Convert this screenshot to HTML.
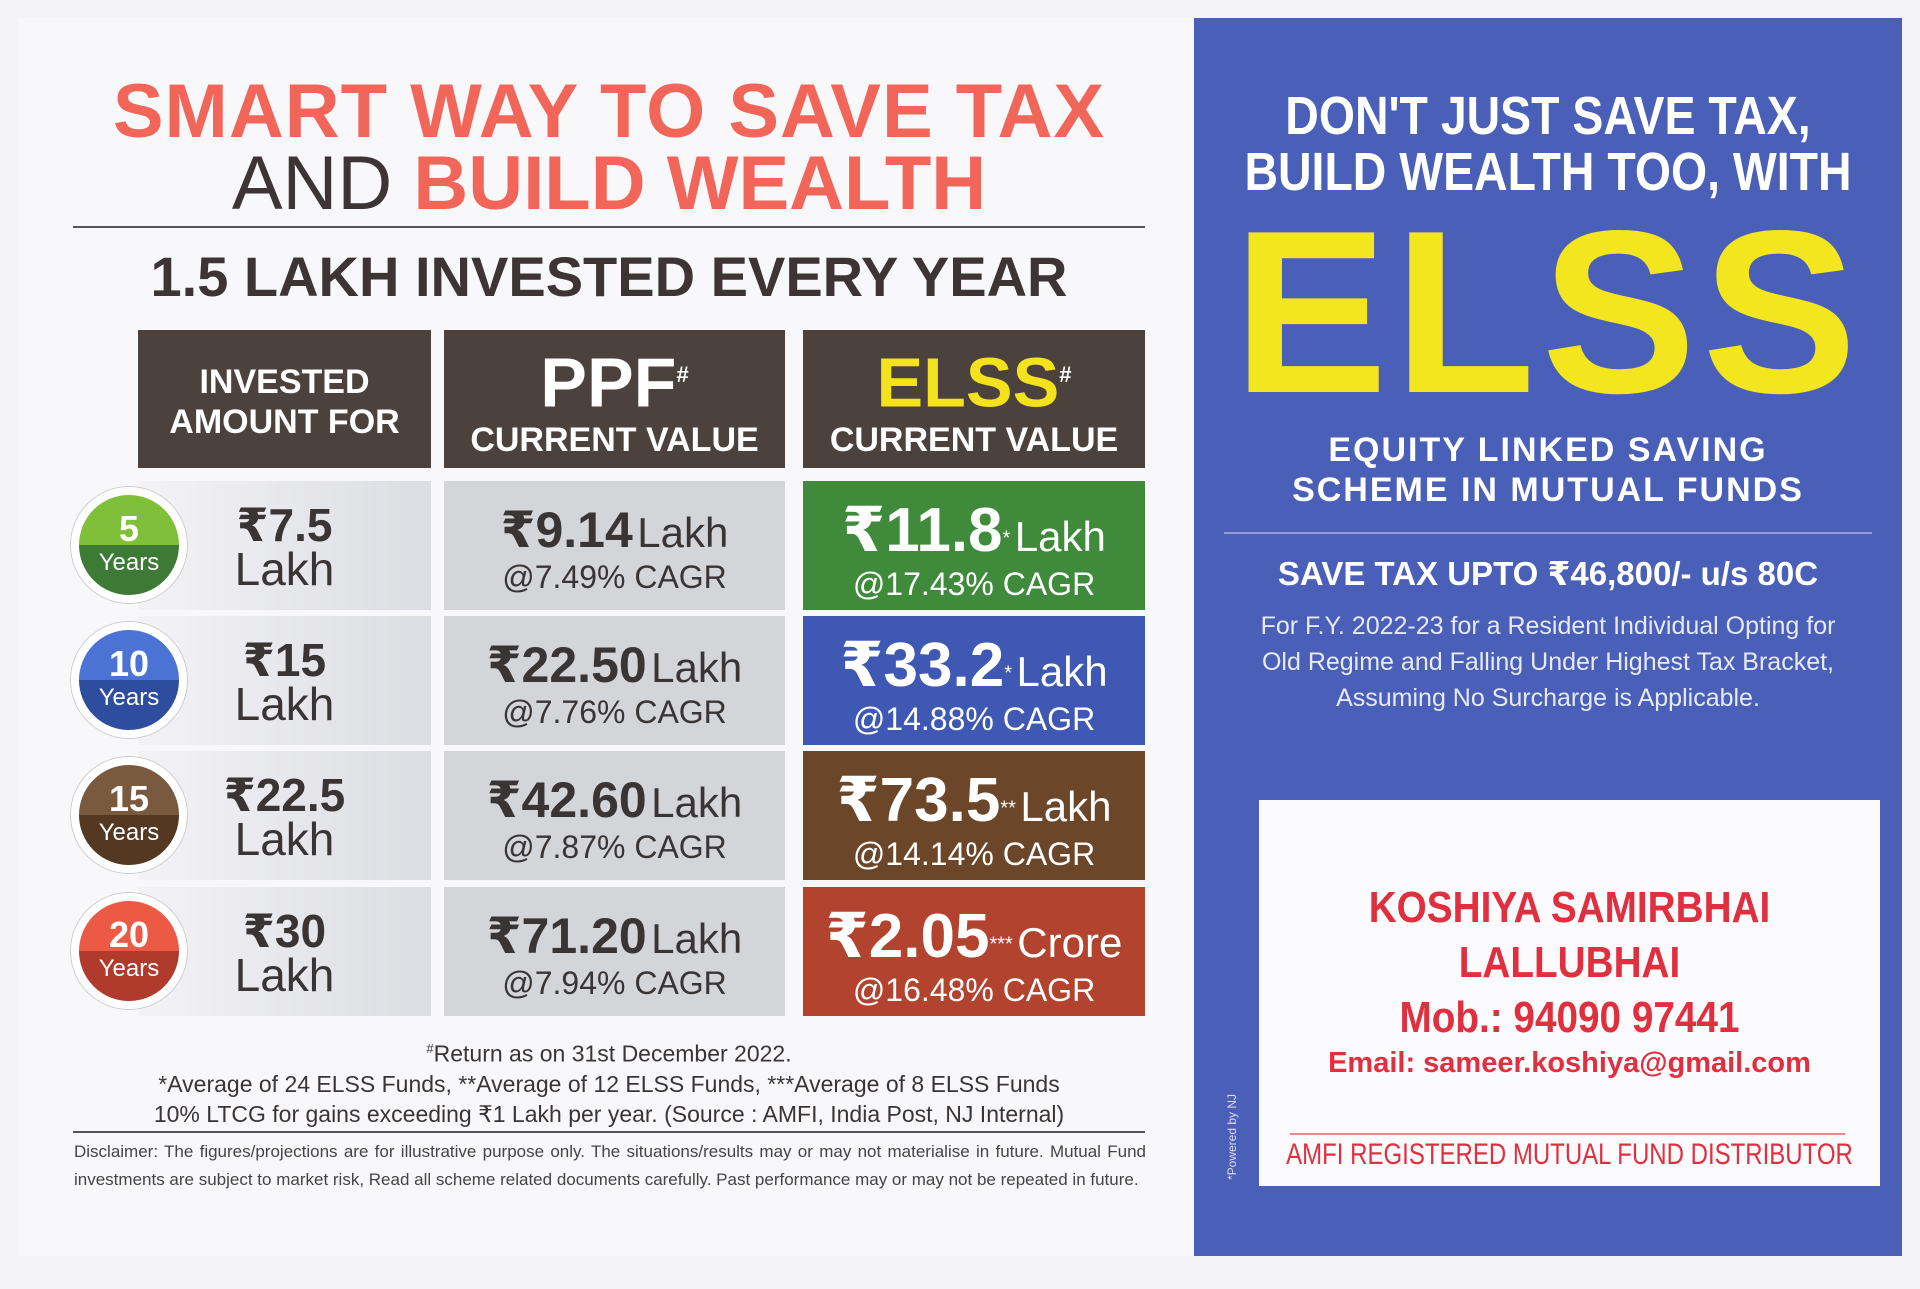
<!DOCTYPE html>
<html><head><meta charset="utf-8"><style>
*{margin:0;padding:0;box-sizing:border-box}
body{width:1920px;height:1289px;background:#f4f4f6;position:relative;overflow:hidden;font-family:"Liberation Sans","DejaVu Sans",sans-serif}
.a{position:absolute}
.c{text-align:center;white-space:nowrap}
.left{left:18px;top:18px;width:1176px;height:1238px;background:#f8f8fa}
.h{background:#4b423d;color:#fff;font-weight:bold}
.g{background:#d4d5d9;color:#3a3535}
.l{background:linear-gradient(90deg,#f3f3f6,#dcdde2);color:#3a3535}
.circ{width:116px;height:116px;border-radius:50%;border:8px solid #fff;box-shadow:0 0 0 1px #ccc;color:#fff;text-align:center;font-weight:bold}
.circ b{display:block;font-size:36px;line-height:40px;margin-top:14px}
.circ span{display:block;font-size:24px;font-weight:normal}
.val{font-size:50px;font-weight:bold}
.unit{font-size:42px;font-weight:normal}
.cagr{font-size:32px}
</style></head><body>
<div class="a left"></div>
<div class="a c" style="left:73px;width:1072px;top:68px;font-size:76px;font-weight:900;color:#f2665a;letter-spacing:1px">SMART WAY TO SAVE TAX</div>
<div class="a c" style="left:73px;width:1072px;top:140px;font-size:76px;color:#3d3535"><span style="font-weight:normal">AND </span><b style="color:#f2665a;font-weight:900">BUILD WEALTH</b></div>
<div class="a" style="left:73px;top:226px;width:1072px;height:2px;background:#555"></div>
<div class="a c" style="left:73px;width:1072px;top:244px;font-size:56px;font-weight:bold;color:#3d3535">1.5 LAKH INVESTED EVERY YEAR</div>

<div class="a h c" style="left:138px;top:330px;width:293px;height:138px;padding-top:32px;font-size:34px;line-height:40px">INVESTED<br>AMOUNT FOR</div>
<div class="a h c" style="left:444px;top:330px;width:341px;height:138px;padding-top:10px"><div style="font-size:70px;line-height:70px;font-weight:900">PPF<sup style="font-size:22px">#</sup></div><div style="font-size:34px;margin-top:4px">CURRENT VALUE</div></div>
<div class="a h c" style="left:803px;top:330px;width:342px;height:138px;padding-top:10px"><div style="font-size:70px;line-height:70px;font-weight:900;color:#f3e21c">ELSS<sup style="font-size:22px;color:#fff">#</sup></div><div style="font-size:34px;margin-top:4px">CURRENT VALUE</div></div>

<div class="a l c" style="left:138px;top:481px;width:293px;height:129px;padding:22px 0 0 0;font-size:46px;line-height:44px"><b>₹7.5</b><br>Lakh</div>
<div class="a l c" style="left:138px;top:616px;width:293px;height:129px;padding:22px 0 0 0;font-size:46px;line-height:44px"><b>₹15</b><br>Lakh</div>
<div class="a l c" style="left:138px;top:751px;width:293px;height:129px;padding:22px 0 0 0;font-size:46px;line-height:44px"><b>₹22.5</b><br>Lakh</div>
<div class="a l c" style="left:138px;top:887px;width:293px;height:129px;padding:22px 0 0 0;font-size:46px;line-height:44px"><b>₹30</b><br>Lakh</div>

<div class="a circ" style="left:71px;top:487px;background:linear-gradient(#7fbf3a 50%,#3d7a36 50%)"><b>5</b><span>Years</span></div>
<div class="a circ" style="left:71px;top:622px;background:linear-gradient(#4b73d6 50%,#2f4d9e 50%)"><b>10</b><span>Years</span></div>
<div class="a circ" style="left:71px;top:757px;background:linear-gradient(#7a5a3f 50%,#553821 50%)"><b>15</b><span>Years</span></div>
<div class="a circ" style="left:71px;top:893px;background:linear-gradient(#ec5a45 50%,#b03a2b 50%)"><b>20</b><span>Years</span></div>

<div class="a g c" style="left:444px;top:481px;width:341px;height:129px;padding-top:20px"><span class="val">₹9.14</span> <span class="unit">Lakh</span><div class="cagr">@7.49% CAGR</div></div>
<div class="a g c" style="left:444px;top:616px;width:341px;height:129px;padding-top:20px"><span class="val">₹22.50</span> <span class="unit">Lakh</span><div class="cagr">@7.76% CAGR</div></div>
<div class="a g c" style="left:444px;top:751px;width:341px;height:129px;padding-top:20px"><span class="val">₹42.60</span> <span class="unit">Lakh</span><div class="cagr">@7.87% CAGR</div></div>
<div class="a g c" style="left:444px;top:887px;width:341px;height:129px;padding-top:20px"><span class="val">₹71.20</span> <span class="unit">Lakh</span><div class="cagr">@7.94% CAGR</div></div>

<div class="a c" style="left:803px;top:481px;width:342px;height:129px;padding-top:12px;background:#3f8a3b;color:#fff"><span class="val" style="font-size:62px">₹11.8</span><sup style="font-size:20px">*</sup> <span class="unit">Lakh</span><div class="cagr">@17.43% CAGR</div></div>
<div class="a c" style="left:803px;top:616px;width:342px;height:129px;padding-top:12px;background:#3e58b3;color:#fff"><span class="val" style="font-size:62px">₹33.2</span><sup style="font-size:20px">*</sup> <span class="unit">Lakh</span><div class="cagr">@14.88% CAGR</div></div>
<div class="a c" style="left:803px;top:751px;width:342px;height:129px;padding-top:12px;background:#6c4629;color:#fff"><span class="val" style="font-size:62px">₹73.5</span><sup style="font-size:20px">**</sup> <span class="unit">Lakh</span><div class="cagr">@14.14% CAGR</div></div>
<div class="a c" style="left:803px;top:887px;width:342px;height:129px;padding-top:12px;background:#b2432f;color:#fff"><span class="val" style="font-size:62px">₹2.05</span><sup style="font-size:20px">***</sup> <span class="unit">Crore</span><div class="cagr">@16.48% CAGR</div></div>

<div class="a c" style="left:73px;width:1072px;top:1034px;font-size:23px;line-height:30px;color:#3a3535"><sup style="font-size:13px">#</sup>Return as on 31st December 2022.<br>*Average of 24 ELSS Funds, **Average of 12 ELSS Funds, ***Average of 8 ELSS Funds<br>10% LTCG for gains exceeding ₹1 Lakh per year. (Source : AMFI, India Post, NJ Internal)</div>
<div class="a" style="left:73px;top:1131px;width:1072px;height:2px;background:#555"></div>
<div class="a" style="left:74px;top:1138px;width:1072px;font-size:17px;line-height:28px;color:#444;text-align:justify">Disclaimer: The figures/projections are for illustrative purpose only. The situations/results may or may not materialise in future. Mutual Fund investments are subject to market risk, Read all scheme related documents carefully. Past performance may or may not be repeated in future.</div>

<div class="a" style="left:1194px;top:18px;width:708px;height:1238px;background:#4a5fb8"></div>
<div class="a c" style="left:1094px;width:908px;top:88px;font-size:54px;line-height:56px;font-weight:bold;color:#fff;transform:scaleX(0.86)">DON'T JUST SAVE TAX,<br>BUILD WEALTH TOO, WITH</div>
<div class="a c" style="left:1094px;width:908px;top:198px;font-size:232px;line-height:230px;font-weight:900;color:#f4e61e;letter-spacing:6px">ELSS</div>
<div class="a c" style="left:1194px;width:708px;top:430px;font-size:34px;line-height:40px;font-weight:bold;color:#fff;letter-spacing:2px">EQUITY LINKED SAVING<br>SCHEME IN MUTUAL FUNDS</div>
<div class="a" style="left:1224px;top:532px;width:648px;height:2px;background:#8e9bd6"></div>
<div class="a c" style="left:1194px;width:708px;top:554px;font-size:33px;font-weight:bold;color:#fff">SAVE TAX UPTO ₹46,800/- u/s 80C</div>
<div class="a c" style="left:1194px;width:708px;top:608px;font-size:25px;line-height:36px;color:#e6e9f7">For F.Y. 2022-23 for a Resident Individual Opting for<br>Old Regime and Falling Under Highest Tax Bracket,<br>Assuming No Surcharge is Applicable.</div>
<div class="a" style="left:1259px;top:800px;width:621px;height:386px;background:#fbfbfd"></div>
<div class="a c" style="left:1109px;width:921px;top:880px;font-size:44px;line-height:55px;font-weight:bold;color:#e0303f;transform:scaleX(0.88)">KOSHIYA SAMIRBHAI<br>LALLUBHAI<br>Mob.: 94090 97441</div>
<div class="a c" style="left:1109px;width:921px;top:1047px;font-size:29px;font-weight:bold;color:#e0303f">Email: sameer.koshiya@gmail.com</div>
<div class="a" style="left:1290px;top:1133px;width:555px;height:2px;background:#e88"></div>
<div class="a c" style="left:1109px;width:921px;top:1138px;font-size:30px;color:#e0303f;transform:scaleX(0.8)">AMFI REGISTERED MUTUAL FUND DISTRIBUTOR</div>
<div class="a" style="left:1225px;top:1180px;font-size:12px;color:#dde;transform:rotate(-90deg);transform-origin:left top">*Powered by NJ</div>
</body></html>
